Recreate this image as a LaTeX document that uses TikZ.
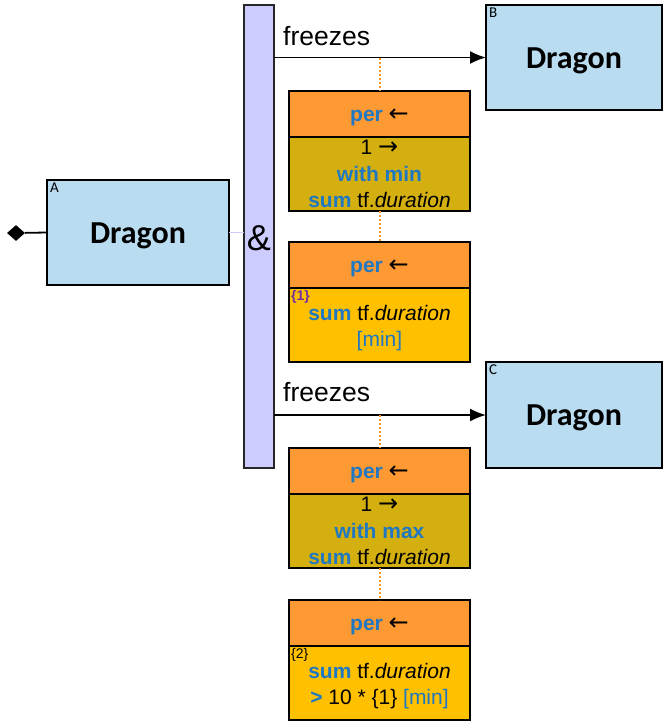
\documentclass[tikz,border=0pt]{standalone}
\usepackage{fontspec}
\setmainfont{Liberation Sans}
\newfontfamily\calibri{Carlito}
\newfontfamily\dejavu{DejaVu Sans}
\usetikzlibrary{positioning,shapes.geometric,arrows.meta}
\definecolor{bleuboite}{HTML}{B9DCF1}
\definecolor{lavande}{HTML}{CCCCFF}
\definecolor{orangeboite}{HTML}{FF9933}
\definecolor{orangepoint}{HTML}{F7941D}
\definecolor{olive}{HTML}{D4AF10}
\definecolor{or}{HTML}{FFC000}
\definecolor{bleutexte}{HTML}{1F78C1}
\definecolor{violet}{HTML}{7030A0}
\newcommand{\mot}[1]{{\bfseries\color{bleutexte}#1}}
\newcommand{\gauche}{{\dejavu\fontsize{24}{26}\selectfont ←}}
\newcommand{\droite}{{\dejavu\fontsize{24}{26}\selectfont →}}
\newcommand{\bas}[1]{\raisebox{-3pt}[\height][\depth]{#1}}
\begin{document}
\begin{tikzpicture}[x=1pt,y=-1pt]
% Styles
\tikzstyle{dragon}=[draw=black,line width=1.5pt,fill=bleuboite,minimum width=182pt,minimum height=105pt,outer sep=0pt,font=\calibri\bfseries\fontsize{32}{36}\selectfont]
\tikzstyle{lettre}=[anchor=north west,inner sep=3pt,font=\calibri\fontsize{15}{16}\selectfont]
\tikzstyle{barre}=[draw=black!85,line width=1.5pt,fill=lavande,minimum width=30pt,minimum height=463pt,outer sep=0pt]
\tikzstyle{entete}=[draw=black,line width=1.5pt,fill=orangeboite,minimum width=181pt,minimum height=46pt,outer sep=0pt,font=\fontsize{21}{24}\selectfont]
\tikzstyle{corps}=[draw=black,line width=1.5pt,minimum width=181pt,minimum height=74pt,outer sep=0pt,align=center,inner sep=1pt,font=\fontsize{21}{26.5}\selectfont]
\tikzstyle{repere}=[anchor=north west,inner sep=2pt,font=\fontsize{14}{16}\selectfont]
\tikzstyle{fleche}=[-{Latex[length=16pt,width=13pt]},line width=1.8pt]
\tikzstyle{pointille}=[draw=orangepoint,line width=2pt,dash pattern=on 2pt off 2pt]
\tikzstyle{texte}=[anchor=base west,inner sep=0pt,font=\fontsize{26.5}{30}\selectfont]
% Noeuds
\node[dragon] (A) at (138,232.5) {\bas{Dragon}};
\node[lettre] at (A.north west) {A};
\node[diamond,fill=black,minimum width=18pt,minimum height=16pt,inner sep=0pt] (L) at (16,233) {};
\node[barre] (E) at (259,236.5) {};
\node[font=\fontsize{36}{40}\selectfont] (ET) at (259,238) {\&};
\node[dragon,minimum width=176pt] (B) at (574,57.5) {\bas{Dragon}};
\node[lettre] at (B.north west) {B};
\node[dragon,minimum width=176pt,minimum height=106pt] (C) at (574,415) {\bas{Dragon}};
\node[lettre] at (C.north west) {C};
\node[texte] (F1) at (283,45) {freezes};
\node[texte] (F2) at (283,401) {freezes};
% Boites
\node[entete] (P1) at (379.5,114) {\bas{\mot{per} \gauche}};
\node[corps,fill=olive,below=0pt of P1] (Q1) {1 \droite\\ \mot{with min}\\ \mot{sum} tf.\textit{duration}};
\node[entete] (P2) at (379.5,265) {\bas{\mot{per} \gauche}};
\node[corps,fill=or,below=0pt of P2] (Q2) {\bas{\mot{sum} tf.\textit{duration}}\\ \bas{\color{bleutexte}[min]}};
\node[repere,text=violet] at (Q2.north west) {\bfseries\{1\}};
\node[entete] (P3) at (379.5,471) {\bas{\mot{per} \gauche}};
\node[corps,fill=olive,below=0pt of P3] (Q3) {1 \droite\\ \mot{with max}\\ \mot{sum} tf.\textit{duration}};
\node[entete] (P4) at (379.5,623) {\bas{\mot{per} \gauche}};
\node[corps,fill=or,below=0pt of P4] (Q4) {\bas{\mot{sum} tf.\textit{duration}}\\ \bas{\mot{>} 10 * \{1\} {\color{bleutexte}[min]}}};
\node[repere] at (Q4.north west) {\{2\}};
% Arcs
\draw[line width=1.8pt] (L) -- (A.west);
\draw[lavande,line width=1.5pt] (A.east) -- (A.east -| E.west);
\draw[fleche] (E.east |- B.west) -- (B.west);
\draw[fleche] (E.east |- C.west) -- (C.west);
\draw[pointille] (P1.north |- B.west) -- (P1.north);
\draw[pointille] (Q1.south) -- (P2.north);
\draw[pointille] (P3.north |- C.west) -- (P3.north);
\draw[pointille] (Q3.south) -- (P4.north);
\useasboundingbox (0,0) rectangle (662,721);
\end{tikzpicture}
\end{document}
